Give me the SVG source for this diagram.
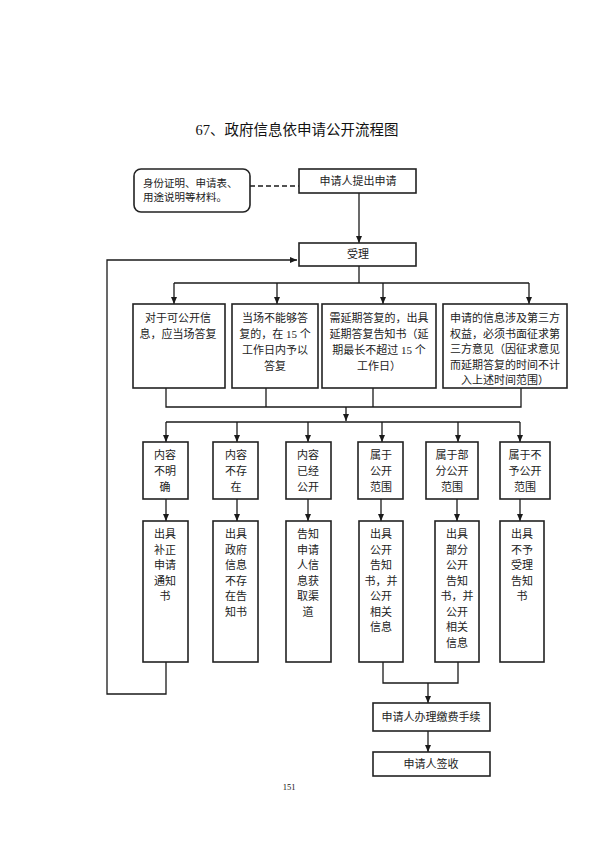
<svg xmlns="http://www.w3.org/2000/svg" width="596" height="842" viewBox="0 0 596 842">
<defs>
<style>
.box{fill:#fff;stroke:#222;stroke-width:1.6}
.ln{fill:none;stroke:#1a1a1a;stroke-width:1.3}
.dash{fill:none;stroke:#1a1a1a;stroke-width:1.3;stroke-dasharray:5 3}
.t{font-family:"Liberation Serif","Noto Sans CJK SC",serif;font-size:11px;fill:#222;text-anchor:middle}
.tl{font-family:"Liberation Serif","Noto Sans CJK SC",serif;font-size:10.5px;fill:#222}
.title{font-family:"Liberation Serif","Noto Sans CJK SC",serif;font-size:14.5px;fill:#111;text-anchor:middle}
</style>
<marker id="ar" viewBox="0 0 7 6" refX="7" refY="3" markerWidth="7" markerHeight="6" markerUnits="userSpaceOnUse" orient="auto">
<path d="M0,0 L7,3 L0,6 z" fill="#1a1a1a"/>
</marker>
</defs>
<rect width="596" height="842" fill="#fff"/>
<text class="title" x="297" y="135">67、政府信息依申请公开流程图</text>

<g id="connectors">
<line class="dash" x1="250" y1="186" x2="299" y2="186"/>
<line class="ln" x1="359" y1="193" x2="359" y2="243" marker-end="url(#ar)"/>
<polyline class="ln" points="166,662 166,694 107,694 107,260 297,260" marker-end="url(#ar)"/>
<line class="ln" x1="359" y1="266" x2="359" y2="283"/>
<line class="ln" x1="174" y1="283" x2="529" y2="283"/>
<line class="ln" x1="174" y1="283" x2="174" y2="304" marker-end="url(#ar)"/>
<line class="ln" x1="277" y1="283" x2="277" y2="304" marker-end="url(#ar)"/>
<line class="ln" x1="383" y1="283" x2="383" y2="304" marker-end="url(#ar)"/>
<line class="ln" x1="529" y1="283" x2="529" y2="304" marker-end="url(#ar)"/>
<polyline class="ln" points="166,388 166,407 521,407 521,388"/>
<line class="ln" x1="266" y1="388" x2="266" y2="407"/>
<line class="ln" x1="373" y1="388" x2="373" y2="407"/>
<line class="ln" x1="346" y1="407" x2="346" y2="421" marker-end="url(#ar)"/>
<line class="ln" x1="166" y1="422" x2="520" y2="422"/>
<line class="ln" x1="166" y1="422" x2="166" y2="442" marker-end="url(#ar)"/>
<line class="ln" x1="237" y1="422" x2="237" y2="442" marker-end="url(#ar)"/>
<line class="ln" x1="308" y1="422" x2="308" y2="442" marker-end="url(#ar)"/>
<line class="ln" x1="382" y1="422" x2="382" y2="442" marker-end="url(#ar)"/>
<line class="ln" x1="458" y1="422" x2="458" y2="442" marker-end="url(#ar)"/>
<line class="ln" x1="520" y1="422" x2="520" y2="442" marker-end="url(#ar)"/>
<line class="ln" x1="166" y1="499" x2="166" y2="521" marker-end="url(#ar)"/>
<line class="ln" x1="237" y1="499" x2="237" y2="521" marker-end="url(#ar)"/>
<line class="ln" x1="308" y1="499" x2="308" y2="521" marker-end="url(#ar)"/>
<line class="ln" x1="381" y1="499" x2="381" y2="521" marker-end="url(#ar)"/>
<line class="ln" x1="457" y1="499" x2="457" y2="521" marker-end="url(#ar)"/>
<line class="ln" x1="520" y1="499" x2="520" y2="521" marker-end="url(#ar)"/>
<polyline class="ln" points="383,662 383,683 458,683 458,662"/>
<line class="ln" x1="428" y1="683" x2="428" y2="703" marker-end="url(#ar)"/>
<line class="ln" x1="428" y1="731" x2="428" y2="752" marker-end="url(#ar)"/>
</g>

<g id="note">
<rect class="box" x="134" y="169" width="116" height="43" rx="7"/>
<text class="tl" x="143" y="187">身份证明、申请表、</text>
<text class="tl" x="143" y="201">用途说明等材料。</text>
</g>
<g id="apply">
<rect class="box" x="299" y="169" width="117" height="24"/>
<text class="t" x="358" y="185">申请人提出申请</text>
</g>
<g id="accept">
<rect class="box" x="299" y="243" width="117" height="23"/>
<text class="t" x="358" y="258">受理</text>
</g>

<g id="r1">
<rect class="box" x="133" y="304" width="92" height="84"/>
<text class="t" x="178" y="322">对于可公开信</text>
<text class="t" x="178" y="338">息，应当场答复</text>
</g>
<g id="r2">
<rect class="box" x="232" y="304" width="86" height="84"/>
<text class="t" x="275" y="322">当场不能够答</text>
<text class="t" x="275" y="338">复的，在 15 个</text>
<text class="t" x="275" y="354">工作日内予以</text>
<text class="t" x="275" y="370">答复</text>
</g>
<g id="r3">
<rect class="box" x="322" y="304" width="114" height="84"/>
<text class="t" x="379" y="322">需延期答复的，出具</text>
<text class="t" x="379" y="338">延期答复告知书（延</text>
<text class="t" x="379" y="354">期最长不超过 15 个</text>
<text class="t" x="379" y="370">工作日）</text>
</g>
<g id="r4">
<rect class="box" x="443" y="304" width="124" height="84"/>
<text class="t" x="505" y="322">申请的信息涉及第三方</text>
<text class="t" x="505" y="337.5">权益，必须书面征求第</text>
<text class="t" x="505" y="353">三方意见（因征求意见</text>
<text class="t" x="505" y="368.5">而延期答复的时间不计</text>
<text class="t" x="505" y="384">入上述时间范围）</text>
</g>

<g id="c1">
<rect class="box" x="143" y="442" width="45" height="57"/>
<text class="t" x="165" y="459">内容</text>
<text class="t" x="165" y="475">不明</text>
<text class="t" x="165" y="491">确</text>
</g>
<g id="c2">
<rect class="box" x="213" y="442" width="45" height="57"/>
<text class="t" x="236" y="459">内容</text>
<text class="t" x="236" y="475">不存</text>
<text class="t" x="236" y="491">在</text>
</g>
<g id="c3">
<rect class="box" x="286" y="442" width="45" height="57"/>
<text class="t" x="308" y="459">内容</text>
<text class="t" x="308" y="475">已经</text>
<text class="t" x="308" y="491">公开</text>
</g>
<g id="c4">
<rect class="box" x="358" y="442" width="45" height="57"/>
<text class="t" x="381" y="459">属于</text>
<text class="t" x="381" y="475">公开</text>
<text class="t" x="381" y="491">范围</text>
</g>
<g id="c5">
<rect class="box" x="426" y="442" width="52" height="57"/>
<text class="t" x="452" y="459">属于部</text>
<text class="t" x="452" y="475">分公开</text>
<text class="t" x="452" y="491">范围</text>
</g>
<g id="c6">
<rect class="box" x="500" y="442" width="50" height="57"/>
<text class="t" x="525" y="459">属于不</text>
<text class="t" x="525" y="475">予公开</text>
<text class="t" x="525" y="491">范围</text>
</g>

<g id="d1">
<rect class="box" x="143" y="521" width="45" height="141"/>
<text class="t" x="165" y="538">出具</text>
<text class="t" x="165" y="553.5">补正</text>
<text class="t" x="165" y="569">申请</text>
<text class="t" x="165" y="584.5">通知</text>
<text class="t" x="165" y="600">书</text>
</g>
<g id="d2">
<rect class="box" x="213" y="521" width="45" height="141"/>
<text class="t" x="236" y="538">出具</text>
<text class="t" x="236" y="553.5">政府</text>
<text class="t" x="236" y="569">信息</text>
<text class="t" x="236" y="584.5">不存</text>
<text class="t" x="236" y="600">在告</text>
<text class="t" x="236" y="615.5">知书</text>
</g>
<g id="d3">
<rect class="box" x="286" y="521" width="45" height="141"/>
<text class="t" x="308" y="538">告知</text>
<text class="t" x="308" y="553.5">申请</text>
<text class="t" x="308" y="569">人信</text>
<text class="t" x="308" y="584.5">息获</text>
<text class="t" x="308" y="600">取渠</text>
<text class="t" x="308" y="615.5">道</text>
</g>
<g id="d4">
<rect class="box" x="359" y="521" width="44" height="141"/>
<text class="t" x="381" y="538">出具</text>
<text class="t" x="381" y="553.5">公开</text>
<text class="t" x="381" y="569">告知</text>
<text class="t" x="381" y="584.5">书，并</text>
<text class="t" x="381" y="600">公开</text>
<text class="t" x="381" y="615.5">相关</text>
<text class="t" x="381" y="631">信息</text>
</g>
<g id="d5">
<rect class="box" x="435" y="521" width="44" height="141"/>
<text class="t" x="457" y="538">出具</text>
<text class="t" x="457" y="553.5">部分</text>
<text class="t" x="457" y="569">公开</text>
<text class="t" x="457" y="584.5">告知</text>
<text class="t" x="457" y="600">书，并</text>
<text class="t" x="457" y="615.5">公开</text>
<text class="t" x="457" y="631">相关</text>
<text class="t" x="457" y="646.5">信息</text>
</g>
<g id="d6">
<rect class="box" x="500" y="521" width="44" height="141"/>
<text class="t" x="522" y="538">出具</text>
<text class="t" x="522" y="553.5">不予</text>
<text class="t" x="522" y="569">受理</text>
<text class="t" x="522" y="584.5">告知</text>
<text class="t" x="522" y="600">书</text>
</g>

<g id="fee">
<rect class="box" x="373" y="703" width="117" height="28"/>
<text class="t" x="431" y="721">申请人办理缴费手续</text>
</g>
<g id="sign">
<rect class="box" x="373" y="752" width="117" height="24"/>
<text class="t" x="431" y="768">申请人签收</text>
</g>
<text x="289" y="790" font-family="Liberation Serif, serif" font-size="8.5" fill="#111" text-anchor="middle">151</text>
</svg>
